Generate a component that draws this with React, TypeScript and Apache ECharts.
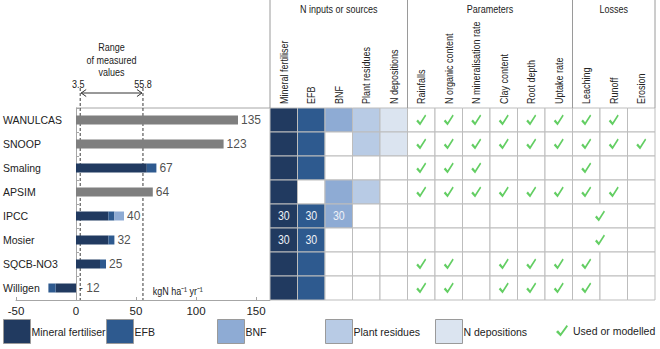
import React, { useEffect, useRef } from 'react';
import * as echarts from 'echarts';

// ---------- data ----------
const models = ['WANULCAS', 'SNOOP', 'Smaling', 'APSIM', 'IPCC', 'Mosier', 'SQCB-NO3', 'Willigen'];
const otherInputs = [135, 123, null, 64, null, null, null, null]; // grey bars
const mineral = [null, null, 59, null, 27, 27, 20, -17];
const efb = [null, null, 8, null, 5, 5, 5, -6];
const bnf = [null, null, null, null, 8, null, null, null];
const totals = [135, 123, 67, 64, 40, 32, 25, -12];
const rangeMin = 3.5;
const rangeMax = 55.8;
const unitText = 'kgN ha⁻¹ yr⁻¹';

const inputNames = ['Mineral fertiliser', 'EFB', 'BNF', 'Plant residues', 'N depositions'];
const paramNames = ['Rainfalls', 'N organic content', 'N mineralisation rate', 'Clay content', 'Root depth', 'Uptake rate'];
const lossNames = ['Leaching', 'Runoff', 'Erosion'];
const groupNames = ['N inputs or sources', 'Parameters', 'Losses'];
const checkName = 'Used or modelled';

// 1 = used, a larger number = value written in the cell
const inputCells = [
  [1, 1, 1, 1, 1],
  [1, 1, 0, 1, 1],
  [1, 1, 0, 0, 0],
  [1, 0, 1, 1, 0],
  [30, 30, 30, 0, 0],
  [30, 30, 0, 0, 0],
  [1, 1, 0, 0, 0],
  [1, 1, 0, 0, 0],
];
// 1 = check; 2 = check in a cell merged with the next column
const paramChecks = [
  [1, 1, 1, 1, 1, 1],
  [1, 1, 1, 1, 1, 1],
  [1, 1, 1, 0, 0, 0],
  [1, 1, 1, 1, 1, 1],
  [0, 0, 0, 0, 0, 0],
  [0, 0, 0, 0, 0, 0],
  [1, 1, 0, 1, 1, 1],
  [1, 1, 0, 1, 1, 1],
];
const lossChecks = [
  [1, 1, 0],
  [1, 1, 1],
  [1, 0, 0],
  [1, 1, 0],
  [2, 0, 0],
  [2, 0, 0],
  [1, 0, 0],
  [1, 0, 0],
];

// ---------- styles ----------
const FONT = "'Liberation Sans', Arial, sans-serif";
const NARROW = 0.82; // horizontal squeeze to mimic a narrow face
const inputColors = ['#213a60', '#2e5a8f', '#8eabd4', '#b8cbe5', '#dbe4f0'];
const greyBar = '#7f7f7f';
const checkColor = '#3cc23c';
const gridLine = '#bdbdbd';
const axisGrey = '#a6a6a6';
const textColor = '#222';
const CHECK = 'path://M0,7 L2,5.2 L4.6,8.2 L10.6,0 L12,1.3 L4.6,11.5 Z';

const columns = [...inputNames, ...paramNames, ...lossNames];
const groupSpans = [inputNames.length, paramNames.length, lossNames.length];

// table cells and check positions built from the arrays above
type Cell = { c: number; r: number; span: number; fill: string; text: string };
const cells: Cell[] = [];
const checks: number[][] = [];
models.forEach((_, r) => {
  const row = [...inputCells[r], ...paramChecks[r], ...lossChecks[r]];
  for (let c = 0; c < row.length; c++) {
    const v = row[c];
    if (c < inputNames.length) {
      cells.push({ c, r, span: 1, fill: v ? inputColors[c] : '#ffffff', text: v > 1 ? String(v) : '' });
    } else {
      const span = v === 2 ? 2 : 1;
      cells.push({ c, r, span, fill: '#ffffff', text: '' });
      if (v) checks.push([c + span / 2, r + 0.5]);
      c += span - 1;
    }
  }
});
const groupBounds: number[][] = [];
groupSpans.reduce((start, span) => {
  groupBounds.push([start, start + span]);
  return start + span;
}, 0);

const positiveEnd = models.map((_, i) =>
  [otherInputs[i], mineral[i], efb[i], bnf[i]].reduce((s: number, v) => s + (v && v > 0 ? v : 0), 0)
);

const txt = (text: string, x: number, y: number, extra: any = {}, el: any = {}) => ({
  type: 'text',
  x,
  y,
  scaleX: NARROW,
  ...el,
  style: {
    text,
    x: 0,
    y: 0,
    fill: textColor,
    fontSize: 11,
    fontFamily: FONT,
    align: 'center',
    verticalAlign: 'middle',
    ...extra,
  },
});

const barBase = {
  type: 'bar',
  xAxisIndex: 0,
  yAxisIndex: 0,
  stack: 'n',
  barWidth: 9,
  silent: true,
};

const legendLefts = [3, 106, 217, 325, 435, 556];
const legendNames = [...inputNames, checkName];

const option: any = {
  animation: false,
  textStyle: { fontFamily: FONT },
  grid: [
    { left: 16, right: 390, top: 108, bottom: 49 },
    { left: 270, right: 5, top: 108, bottom: 49 },
  ],
  xAxis: [
    {
      type: 'value',
      gridIndex: 0,
      min: -50,
      max: 161.67,
      interval: 50,
      axisLine: { show: true, onZero: false, lineStyle: { color: axisGrey } },
      axisTick: { show: true, inside: true, length: 3, lineStyle: { color: axisGrey } },
      axisLabel: {
        fontSize: 11.5,
        color: textColor,
        margin: 5,
        fontFamily: FONT,
        showMaxLabel: false,
        formatter: (v: number) => (v % 50 === 0 ? String(v) : ''),
      },
      splitLine: { show: false },
    },
    { type: 'value', gridIndex: 1, min: 0, max: columns.length, show: false },
  ],
  yAxis: [
    {
      type: 'category',
      gridIndex: 0,
      data: models,
      inverse: true,
      position: 'left',
      axisLine: { show: true, onZero: true, lineStyle: { color: axisGrey } },
      axisTick: { show: true, inside: true, length: 3, lineStyle: { color: axisGrey } },
      axisLabel: { show: false },
    },
    {
      type: 'category',
      gridIndex: 0,
      data: models,
      inverse: true,
      position: 'left',
      axisLine: { show: false, onZero: false },
      axisTick: { show: false },
      axisLabel: { align: 'left', margin: 13, fontSize: 10.5, color: textColor, fontFamily: FONT },
    },
    { type: 'value', gridIndex: 1, min: 0, max: models.length, inverse: true, show: false },
  ],
  legend: legendNames.map((name, i) => {
    const isCheck = name === checkName;
    return {
      data: [name],
      left: legendLefts[i],
      top: isCheck ? 325 : 319,
      padding: 0,
      selectedMode: false,
      itemWidth: isCheck ? 12 : 27,
      itemHeight: isCheck ? 13 : 24,
      icon: isCheck ? undefined : 'rect',
      itemStyle: isCheck ? { borderWidth: 0 } : { borderColor: '#9a9a9a', borderWidth: 1 },
      textStyle: { fontSize: 10.5, color: textColor, fontFamily: FONT, padding: [0, 0, 0, isCheck ? 0 : -4] },
    };
  }),
  series: [
    { ...barBase, name: 'Other', data: otherInputs, itemStyle: { color: greyBar } },
    { ...barBase, name: inputNames[0], data: mineral, itemStyle: { color: inputColors[0] } },
    { ...barBase, name: inputNames[1], data: efb, itemStyle: { color: inputColors[1] } },
    { ...barBase, name: inputNames[2], data: bnf, itemStyle: { color: inputColors[2] } },
    { ...barBase, name: inputNames[3], data: [], itemStyle: { color: inputColors[3] } },
    { ...barBase, name: inputNames[4], data: [], itemStyle: { color: inputColors[4] } },
    {
      type: 'scatter',
      name: 'totals',
      xAxisIndex: 0,
      yAxisIndex: 0,
      symbolSize: 0,
      silent: true,
      data: models.map((_, i) => [positiveEnd[i], i]),
      label: {
        show: true,
        position: 'right',
        distance: 3,
        fontSize: 12,
        color: textColor,
        fontFamily: FONT,
        formatter: (p: any) => {
          const v = totals[p.dataIndex];
          return v < 0 ? '- ' + Math.abs(v) : String(v);
        },
      },
    },
    {
      type: 'custom',
      name: 'range',
      xAxisIndex: 0,
      yAxisIndex: 0,
      silent: true,
      data: [[rangeMin, 0]],
      renderItem: (params: any, api: any) => {
        const cs = params.coordSys;
        const top = cs.y;
        const bottom = cs.y + cs.height;
        const x0 = api.coord([0, 0])[0];
        const x1 = api.coord([rangeMin, 0])[0];
        const x2 = api.coord([rangeMax, 0])[0];
        const xu = api.coord([64, 0])[0];
        const ay = top - 15;
        const dash = { stroke: '#3a3a3a', lineWidth: 1, lineDash: [3, 2] };
        return {
          type: 'group',
          children: [
            { type: 'line', shape: { x1: x0, y1: top, x2: cs.x + cs.width, y2: top }, style: { stroke: axisGrey, lineWidth: 1 } },
            { type: 'line', shape: { x1: x1, y1: top - 20, x2: x1, y2: bottom }, style: dash },
            { type: 'line', shape: { x1: x2, y1: top - 20, x2: x2, y2: bottom }, style: dash },
            { type: 'line', shape: { x1: x1 + 1, y1: ay, x2: x2 - 1, y2: ay }, style: { stroke: '#333', lineWidth: 1 } },
            { type: 'polyline', shape: { points: [[x1 + 6, ay - 3.5], [x1 + 1, ay], [x1 + 6, ay + 3.5]] }, style: { stroke: '#333', fill: 'none', lineWidth: 1 } },
            { type: 'polyline', shape: { points: [[x2 - 6, ay - 3.5], [x2 - 1, ay], [x2 - 6, ay + 3.5]] }, style: { stroke: '#333', fill: 'none', lineWidth: 1 } },
            txt(String(rangeMin), x1 - 2, top - 24),
            txt(String(rangeMax), x2, top - 24),
            txt('Range\nof measured\nvalues', (x1 + x2) / 2, top - 48, { lineHeight: 12.5 }),
            txt(unitText, xu, bottom - 9, { align: 'left' }),
          ],
        };
      },
    },
    {
      type: 'custom',
      name: 'cells',
      xAxisIndex: 1,
      yAxisIndex: 2,
      silent: true,
      data: cells.map((m) => [m.c + m.span / 2, m.r + 0.5]),
      renderItem: (params: any, api: any) => {
        const m = cells[params.dataIndex];
        const p0 = api.coord([m.c, m.r]);
        const p1 = api.coord([m.c + m.span, m.r + 1]);
        const children: any[] = [
          {
            type: 'rect',
            shape: { x: p0[0], y: p0[1], width: p1[0] - p0[0], height: p1[1] - p0[1] },
            style: { fill: m.fill, stroke: gridLine, lineWidth: 1 },
          },
        ];
        if (m.text) {
          children.push(txt(m.text, (p0[0] + p1[0]) / 2, (p0[1] + p1[1]) / 2, { fill: '#eef2f8', fontSize: 12 }, { scaleX: 0.88 }));
        }
        return { type: 'group', children };
      },
    },
    {
      type: 'custom',
      name: 'header',
      xAxisIndex: 1,
      yAxisIndex: 2,
      silent: true,
      data: groupBounds.map((b) => [b[0], 0]),
      renderItem: (params: any, api: any) => {
        const b = groupBounds[params.dataIndex];
        const top = params.coordSys.y;
        const xs = api.coord([b[0], 0])[0];
        const xe = api.coord([b[1], 0])[0];
        const children: any[] = [
          { type: 'line', shape: { x1: xs, y1: 0, x2: xs, y2: top }, style: { stroke: '#9a9a9a', lineWidth: 1 } },
          txt(groupNames[params.dataIndex], (xs + xe) / 2, 9),
        ];
        if (params.dataIndex === groupBounds.length - 1) {
          children.push({ type: 'line', shape: { x1: xe, y1: 0, x2: xe, y2: top }, style: { stroke: '#9a9a9a', lineWidth: 1 } });
        }
        return { type: 'group', children };
      },
    },
    {
      type: 'custom',
      name: 'columnLabels',
      xAxisIndex: 1,
      yAxisIndex: 2,
      silent: true,
      data: columns.map((_, c) => [c + 0.5, 0]),
      renderItem: (params: any, api: any) => {
        const top = params.coordSys.y;
        const x = api.coord([params.dataIndex + 0.5, 0])[0];
        return txt(columns[params.dataIndex], x, top - 4, { align: 'left' }, { rotation: Math.PI / 2 });
      },
    },
    {
      type: 'scatter',
      name: checkName,
      xAxisIndex: 1,
      yAxisIndex: 2,
      silent: true,
      symbol: CHECK,
      symbolSize: [10, 11],
      itemStyle: { color: checkColor },
      z: 5,
      data: checks,
    },
  ],
};

export default function App() {
  const ref = useRef<HTMLDivElement>(null);
  useEffect(() => {
    document.body.style.margin = '0';
    const chart = echarts.init(ref.current!, null, { renderer: 'svg' });
    chart.setOption(option);
    return () => chart.dispose();
  }, []);
  return <div ref={ref} style={{ position: 'absolute', left: 0, top: 0, width: 660, height: 349 }} />;
}
